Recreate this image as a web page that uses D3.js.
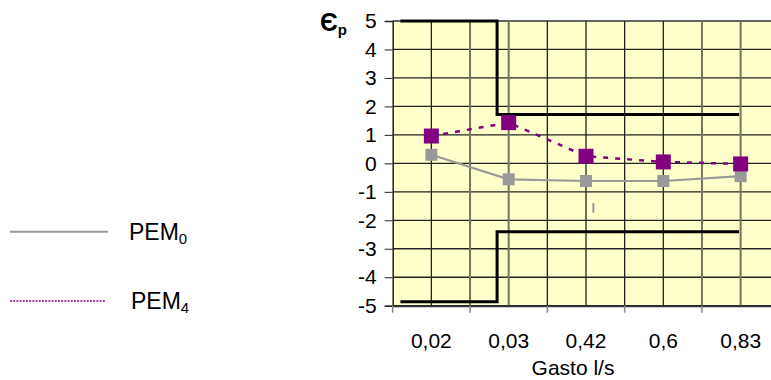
<!DOCTYPE html>
<html><head><meta charset="utf-8">
<script src="https://cdn.jsdelivr.net/npm/d3@7"></script>
<style>html,body{margin:0;padding:0;background:#fff;overflow:hidden}svg{display:block;font-family:"Liberation Sans",Arial,sans-serif}</style>
</head><body><svg id="c" width="771" height="380"></svg>
<script>
const categories = ["0,02","0,03","0,42","0,6","0,83"];
const pem0 = [0.3, -0.56, -0.62, -0.62, -0.45];
const pem4 = [0.96, 1.43, 0.25, 0.05, -0.02];
const yTicks = [5,4,3,2,1,0,-1,-2,-3,-4,-5];
// limit step lines: [category position, value]
const upperLimit = [[-0.4,5],[0.85,5],[0.85,1.72],[3.98,1.72]];
const lowerLimit = [[-0.4,-4.86],[0.85,-4.86],[0.85,-2.4],[3.98,-2.4]];
const stray = [[2.095,-1.39],[2.095,-1.73]];
const seriesNames = ["PEM","PEM"];
const seriesSubs = ["0","4"];

const svg = d3.select("#c");
const L = 392.7, R = 779.3, T = 21, B = 305.7;
const x = d3.scaleBand().domain(categories).range([L,R]);
const xi = d3.scaleLinear().domain([-0.5, categories.length-0.5]).range([L,R]);
const y = d3.scaleLinear().domain([-5,5]).range([B,T]);

svg.append("rect").attr("x",L).attr("y",T).attr("width",R-L).attr("height",B-T).attr("fill","#ffffcc");

// horizontal grid
svg.append("g").selectAll("line").data(yTicks).join("line")
  .attr("x1",L).attr("x2",R).attr("y1",d=>y(d)).attr("y2",d=>y(d))
  .attr("stroke",d=>d===5?"#666":"#222").attr("stroke-width",d=>d===5?2:1.3);
// vertical grid at half-band positions
const halfIdx = d3.range(1, categories.length*2);
const grayIdx = new Set([2,3,8,9]);
svg.append("g").selectAll("line").data(halfIdx).join("line")
  .attr("x1",k=>xi(-0.5+k/2)).attr("x2",k=>xi(-0.5+k/2)).attr("y1",T).attr("y2",B)
  .attr("stroke",k=>grayIdx.has(k)?"#77775f":"#222").attr("stroke-width",k=>grayIdx.has(k)?2:1.3);

// y axis
const ya = svg.append("g").attr("transform",`translate(${L},0)`)
  .call(d3.axisLeft(y).tickValues(yTicks).tickSize(8).tickPadding(8).tickFormat(d3.format("d")));
ya.select(".domain").attr("stroke","#222").attr("stroke-width",1.5);
ya.selectAll(".tick line").attr("stroke","#222");
ya.selectAll("text").attr("font-size",21).attr("fill","#000").attr("font-family","Liberation Sans, Arial, sans-serif");
ya.selectAll("text").text(d=>d<0?"-"+Math.abs(d):d);

// x axis
const xa = svg.append("g").attr("transform",`translate(0,${B})`)
  .call(d3.axisBottom(x).tickSize(0).tickPadding(27));
xa.select(".domain").attr("stroke","#333").attr("stroke-width",2);
xa.selectAll("text").attr("font-size",21).attr("fill","#000").attr("font-family","Liberation Sans, Arial, sans-serif");
svg.append("g").selectAll("line").data(d3.range(0,categories.length)).join("line")
  .attr("x1",i=>xi(i-0.5)).attr("x2",i=>xi(i-0.5)).attr("y1",B).attr("y2",B+7)
  .attr("stroke","#888").attr("stroke-width",1.5);

// limit lines
const lim = d3.line().x(d=>xi(d[0])).y(d=>y(d[1]));
[upperLimit, lowerLimit].forEach(s=>svg.append("path").attr("d",lim(s)).attr("fill","none").attr("stroke","#000").attr("stroke-width",3));

// stray mark
svg.append("path").attr("d",lim(stray)).attr("stroke","#999").attr("stroke-width",2);

// series
const line = d3.line().x((d,i)=>x(categories[i])+x.bandwidth()/2).y(d=>y(d));
svg.append("path").attr("d",line(pem0)).attr("fill","none").attr("stroke","#999").attr("stroke-width",2.2);
svg.append("path").attr("d",line(pem4)).attr("fill","none").attr("stroke","#800080").attr("stroke-width",2.5).attr("stroke-dasharray","5,7");
svg.append("g").selectAll("rect").data(pem0).join("rect")
  .attr("x",(d,i)=>x(categories[i])+x.bandwidth()/2-6).attr("y",d=>y(d)-6).attr("width",12).attr("height",12).attr("fill","#999");
svg.append("g").selectAll("rect").data(pem4).join("rect")
  .attr("x",(d,i)=>x(categories[i])+x.bandwidth()/2-7.5).attr("y",d=>y(d)-7.5).attr("width",15).attr("height",15).attr("fill","#800080");

// axis titles
svg.append("text").attr("x",(L+R)/2-13).attr("y",375).attr("text-anchor","middle").attr("font-size",21).text("Gasto l/s");
const yt = svg.append("text").attr("x",320).attr("y",31).attr("font-weight","bold").attr("font-size",25);
yt.append("tspan").text("Є");
yt.append("tspan").attr("font-size",15).attr("dy",4).text("p");

// legend
const legY = [231.7, 301];
svg.append("line").attr("x1",10).attr("x2",108).attr("y1",legY[0]).attr("y2",legY[0]).attr("stroke","#999").attr("stroke-width",2);
svg.append("line").attr("x1",10).attr("x2",105).attr("y1",legY[1]).attr("y2",legY[1]).attr("stroke","#800080").attr("stroke-width",1.5).attr("stroke-dasharray","2,1.2");
seriesNames.forEach((n,i)=>{
  const t = svg.append("text").attr("x",i===0?129:131).attr("y",legY[i]+(i===0?8.5:8)).attr("font-size",23);
  t.append("tspan").text(n);
  t.append("tspan").attr("font-size",15).attr("dy",4).text(seriesSubs[i]);
});
</script></body></html>
